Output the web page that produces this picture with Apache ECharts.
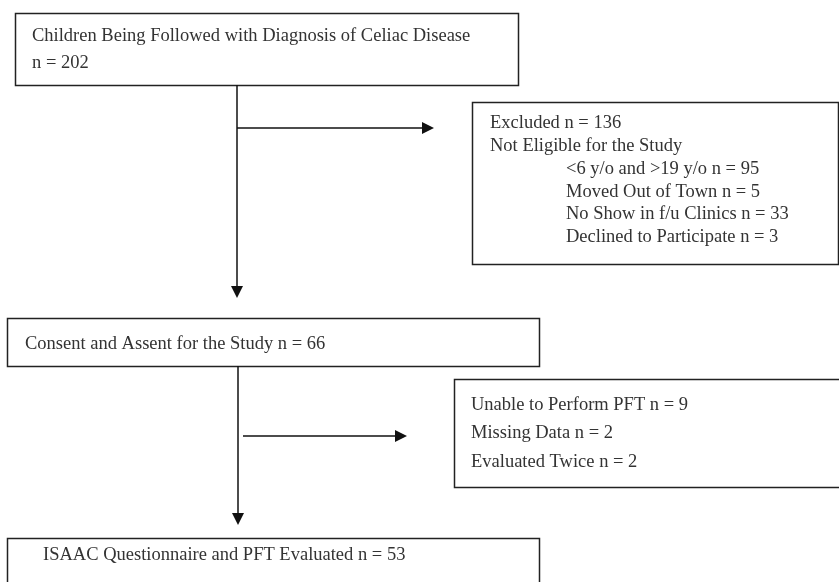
<!DOCTYPE html>
<html><head><meta charset="utf-8">
<script src="https://cdn.jsdelivr.net/npm/echarts@6/dist/echarts.min.js"></script>
<style>html,body{margin:0;padding:0;background:#fff}#c{width:839px;height:582px}</style>
</head><body><div id="c"></div>
<script>
// ---- data ----
const mainSteps = ['Children Being Followed with Diagnosis of Celiac Disease', 'Consent and Assent for the Study', 'ISAAC Questionnaire and PFT Evaluated'];
const mainCounts = [202, 66, 53];
const excludedLabel = 'Excluded';
const excludedTotal = 136;
const notEligibleLabel = 'Not Eligible for the Study';
const exclusionReasons = ['<6 y/o and >19 y/o', 'Moved Out of Town', 'No Show in f/u Clinics', 'Declined to Participate'];
const exclusionCounts = [95, 5, 33, 3];
const lossReasons = ['Unable to Perform PFT', 'Missing Data', 'Evaluated Twice'];
const lossCounts = [9, 2, 2];

const nText = v => 'n = ' + v;

// ---- layout (in canvas units of hidden axes) ----
const boxes = [
  {x0: 15, y0: 13, x1: 518, y1: 85, lines: [
    {x: 32, y: 36, t: mainSteps[0]},
    {x: 32, y: 63, t: nText(mainCounts[0])}]},
  {x0: 472, y0: 102, x1: 838, y1: 264, lines: [
    {x: 490, y: 123, t: excludedLabel + ' ' + nText(excludedTotal)},
    {x: 490, y: 146, t: notEligibleLabel}].concat(
    exclusionReasons.map((r, i) => ({x: 566, y: 169 + i * 22.7, t: r + ' ' + nText(exclusionCounts[i])})))},
  {x0: 7, y0: 318, x1: 539, y1: 366, lines: [
    {x: 25, y: 344, t: mainSteps[1] + ' ' + nText(mainCounts[1])}]},
  {x0: 454, y0: 379, x1: 845, y1: 487, lines:
    lossReasons.map((r, i) => ({x: 471, y: 405 + i * 28.5, t: r + ' ' + nText(lossCounts[i])}))},
  {x0: 7, y0: 538, x1: 539, y1: 600, lines: [
    {x: 43, y: 555, t: mainSteps[2] + ' ' + nText(mainCounts[2])}]}
];
const arrows = [
  {x0: 237, y0: 85, x1: 237, y1: 298},
  {x0: 237, y0: 128, x1: 434, y1: 128},
  {x0: 238, y0: 366, x1: 238, y1: 525},
  {x0: 243, y0: 436, x1: 407, y1: 436}
];

const FONT = '18.5px "Liberation Serif"';
const INK = '#222';

const chart = echarts.init(document.getElementById('c'), null, {renderer: 'canvas'});
chart.setOption({
  animation: false,
  backgroundColor: '#fff',
  grid: {left: 0, right: 0, top: 0, bottom: 0},
  xAxis: {type: 'value', min: 0, max: 839, show: false},
  yAxis: {type: 'value', min: 0, max: 582, inverse: true, show: false},
  series: [
    {
      type: 'custom', silent: true, clip: false,
      data: boxes.map((b, i) => [i]),
      renderItem: (params, api) => {
        const b = boxes[api.value(0)];
        const p0 = api.coord([b.x0, b.y0]);
        const p1 = api.coord([b.x1, b.y1]);
        const children = [{
          type: 'rect',
          shape: {x: Math.round(p0[0]) + 0.5, y: Math.round(p0[1]) + 0.5, width: Math.round(p1[0] - p0[0]), height: Math.round(p1[1] - p0[1])},
          style: {fill: '#fff', stroke: INK, lineWidth: 1.5}
        }];
        b.lines.forEach(l => {
          const q = api.coord([l.x, l.y]);
          children.push({type: 'text', style: {text: l.t, x: q[0], y: q[1], font: FONT, fill: '#333', verticalAlign: 'middle', align: 'left'}});
        });
        return {type: 'group', children};
      }
    },
    {
      type: 'custom', silent: true, clip: false,
      data: arrows.map((a, i) => [i]),
      renderItem: (params, api) => {
        const a = arrows[api.value(0)];
        const p0 = api.coord([a.x0, a.y0]);
        const p1 = api.coord([a.x1, a.y1]);
        const vertical = Math.abs(p1[0] - p0[0]) < 1;
        const L = 12, W = 6;
        let head, lineEnd;
        if (vertical) {
          head = [[p1[0] - W, p1[1] - L], [p1[0] + W, p1[1] - L], [p1[0], p1[1]]];
          lineEnd = [p1[0], p1[1] - L];
        } else {
          head = [[p1[0] - L, p1[1] - W], [p1[0] - L, p1[1] + W], [p1[0], p1[1]]];
          lineEnd = [p1[0] - L, p1[1]];
        }
        return {type: 'group', children: [
          {type: 'line', shape: {x1: p0[0], y1: p0[1], x2: lineEnd[0], y2: lineEnd[1]}, style: {stroke: '#111', lineWidth: 1.5}},
          {type: 'polygon', shape: {points: head}, style: {fill: '#111'}}
        ]};
      }
    }
  ]
});
</script></body></html>
